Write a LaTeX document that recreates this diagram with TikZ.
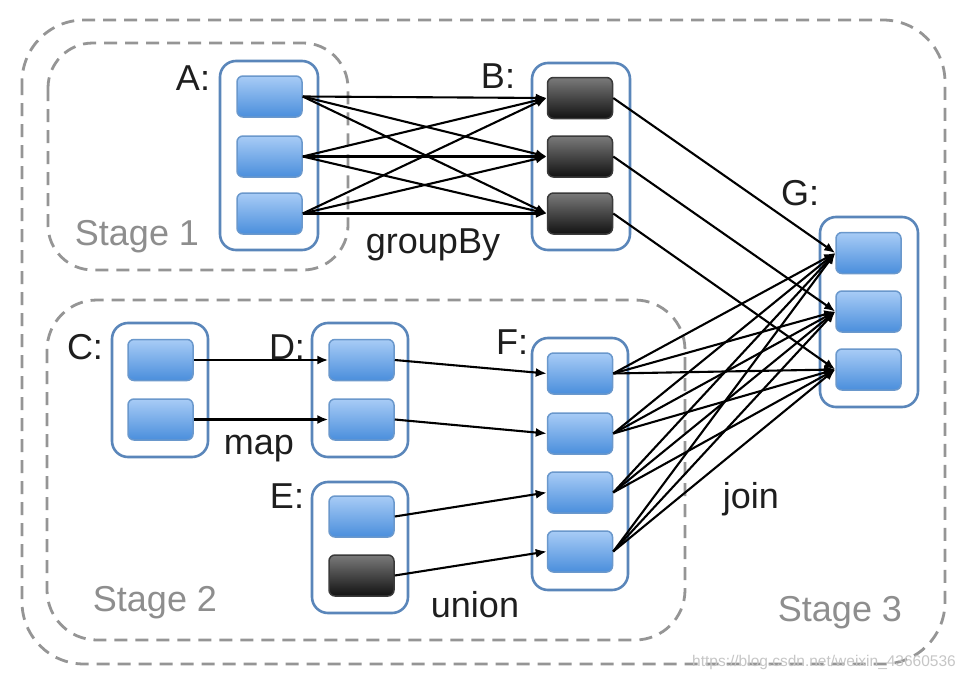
\documentclass[tikz,border=0pt]{standalone}
\usepackage{fontspec}
\setmainfont{Liberation Sans}
\usetikzlibrary{arrows.meta}
\definecolor{itemtop}{HTML}{A8CCF6}
\definecolor{itembot}{HTML}{4A8EDC}
\definecolor{itemline}{HTML}{6A98CC}
\definecolor{darktop}{HTML}{7A7A7A}
\definecolor{darkbot}{HTML}{121212}
\definecolor{darkline}{HTML}{3A3A3A}
\definecolor{boxline}{HTML}{5A86BA}
\definecolor{stagecol}{HTML}{8E8E8E}
\definecolor{dashcol}{HTML}{959595}
\definecolor{labcol}{HTML}{1E1E1E}
\begin{document}
\begin{tikzpicture}[x=1pt,y=-1pt,
  item/.style={draw=itemline, line width=1.5pt, rounded corners=6pt,
    top color=itemtop, bottom color=itembot, minimum width=65pt, minimum height=41pt, inner sep=0pt},
  darkitem/.style={item, draw=darkline, top color=darktop, bottom color=darkbot},
  container/.style={draw=boxline, line width=2.6pt, rounded corners=16pt, fill=white, inner sep=0pt},
  stagebox/.style={draw=dashcol, line width=2.8pt, dash pattern=on 13pt off 8pt},
  lab/.style={text=labcol, font=\fontsize{36}{40}\selectfont, inner sep=0pt},
  stagelab/.style={text=stagecol, font=\fontsize{36}{40}\selectfont, inner sep=0pt},
  conn/.style={draw=black, line width=2.1pt, -{Latex[length=11pt,width=9pt]}}
]
\useasboundingbox (0,0) rectangle (970,680);
\fill[white] (0,0) rectangle (970,680);

% stage boxes
\draw[stagebox, rounded corners=62pt] (22,20) rectangle (945,664);
\draw[stagebox, rounded corners=45pt] (48,43) rectangle (348,270);
\draw[stagebox, rounded corners=50pt] (47,300) rectangle (685,640);

\node[stagelab] (s1) at (137,237) {Stage 1};
\node[stagelab] (s2) at (155,603) {Stage 2};
\node[stagelab] (s3) at (840,613) {Stage 3};

% containers
\node[container, minimum width=98pt, minimum height=189pt] (Ab) at (269,155.5) {};
\node[container, minimum width=98pt, minimum height=187pt] (Bb) at (581,156.5) {};
\node[container, minimum width=98pt, minimum height=190pt] (Gb) at (869,312) {};
\node[container, minimum width=96pt, minimum height=252pt] (Fb) at (580,464) {};
\node[container, minimum width=96pt, minimum height=134pt] (Cb) at (160,390) {};
\node[container, minimum width=96pt, minimum height=134pt] (Db) at (360,390) {};
\node[container, minimum width=96pt, minimum height=131pt] (Eb) at (360,547.5) {};

% items
\node[item] (A1) at (269.5,96.5) {};
\node[item] (A2) at (269.5,156.5) {};
\node[item] (A3) at (269.5,213.5) {};
\node[darkitem] (B1) at (580,98) {};
\node[darkitem] (B2) at (580,156.5) {};
\node[darkitem] (B3) at (580,213.5) {};
\node[item] (G1) at (868.5,253) {};
\node[item] (G2) at (868.5,311.5) {};
\node[item] (G3) at (868.5,369.5) {};
\node[item] (F1) at (580,373.5) {};
\node[item] (F2) at (580,433.5) {};
\node[item] (F3) at (580,492.5) {};
\node[item] (F4) at (580,551.5) {};
\node[item] (C1) at (160.5,360) {};
\node[item] (C2) at (160.5,419.5) {};
\node[item] (D1) at (361.5,360) {};
\node[item] (D2) at (361.5,419.5) {};
\node[item] (E1) at (361.5,516.5) {};
\node[darkitem] (E2) at (361.5,575.5) {};

% labels
\node[lab] (la) at (193,78) {A:};
\node[lab] (lb) at (498,76) {B:};
\node[lab] (lg) at (800,193) {G:};
\node[lab] (lf) at (512,342) {F:};
\node[lab] (lc) at (85,347) {C:};
\node[lab] (ld) at (287,347) {D:};
\node[lab] (le) at (287,496) {E:};
\node[lab] (lmap) at (259,449) {map};
\node[lab] (lgb) at (433,245) {groupBy};
\node[lab] (lun) at (475,605) {union};
\node[lab] (ljoin) at (751,499) {join};

% A -> B (all pairs)
\foreach \i in {1,2,3}{
  \foreach \j in {1,2,3}{
    \draw[conn] (A\i.east) -- (B\j.west);
  }
}
% B -> G
\foreach \i in {1,2,3}{
  \draw[conn] (B\i.east) -- (G\i.west);
}
% F -> G (all pairs)
\foreach \i in {1,2,3,4}{
  \foreach \j in {1,2,3}{
    \draw[conn] (F\i.east) -- (G\j.west);
  }
}
% narrow
\draw[conn] (C1.east) -- (D1.west);
\draw[conn] (C2.east) -- (D2.west);
\draw[conn] (D1.east) -- (F1.west);
\draw[conn] (D2.east) -- (F2.west);
\draw[conn] (E1.east) -- (F3.west);
\draw[conn] (E2.east) -- (F4.west);

% watermark
\node[text=gray!45, font=\fontsize{15.5}{17}\selectfont, inner sep=0pt] (wm) at (824,662) {https://blog.csdn.net/weixin\_43660536};
\end{tikzpicture}
\end{document}
